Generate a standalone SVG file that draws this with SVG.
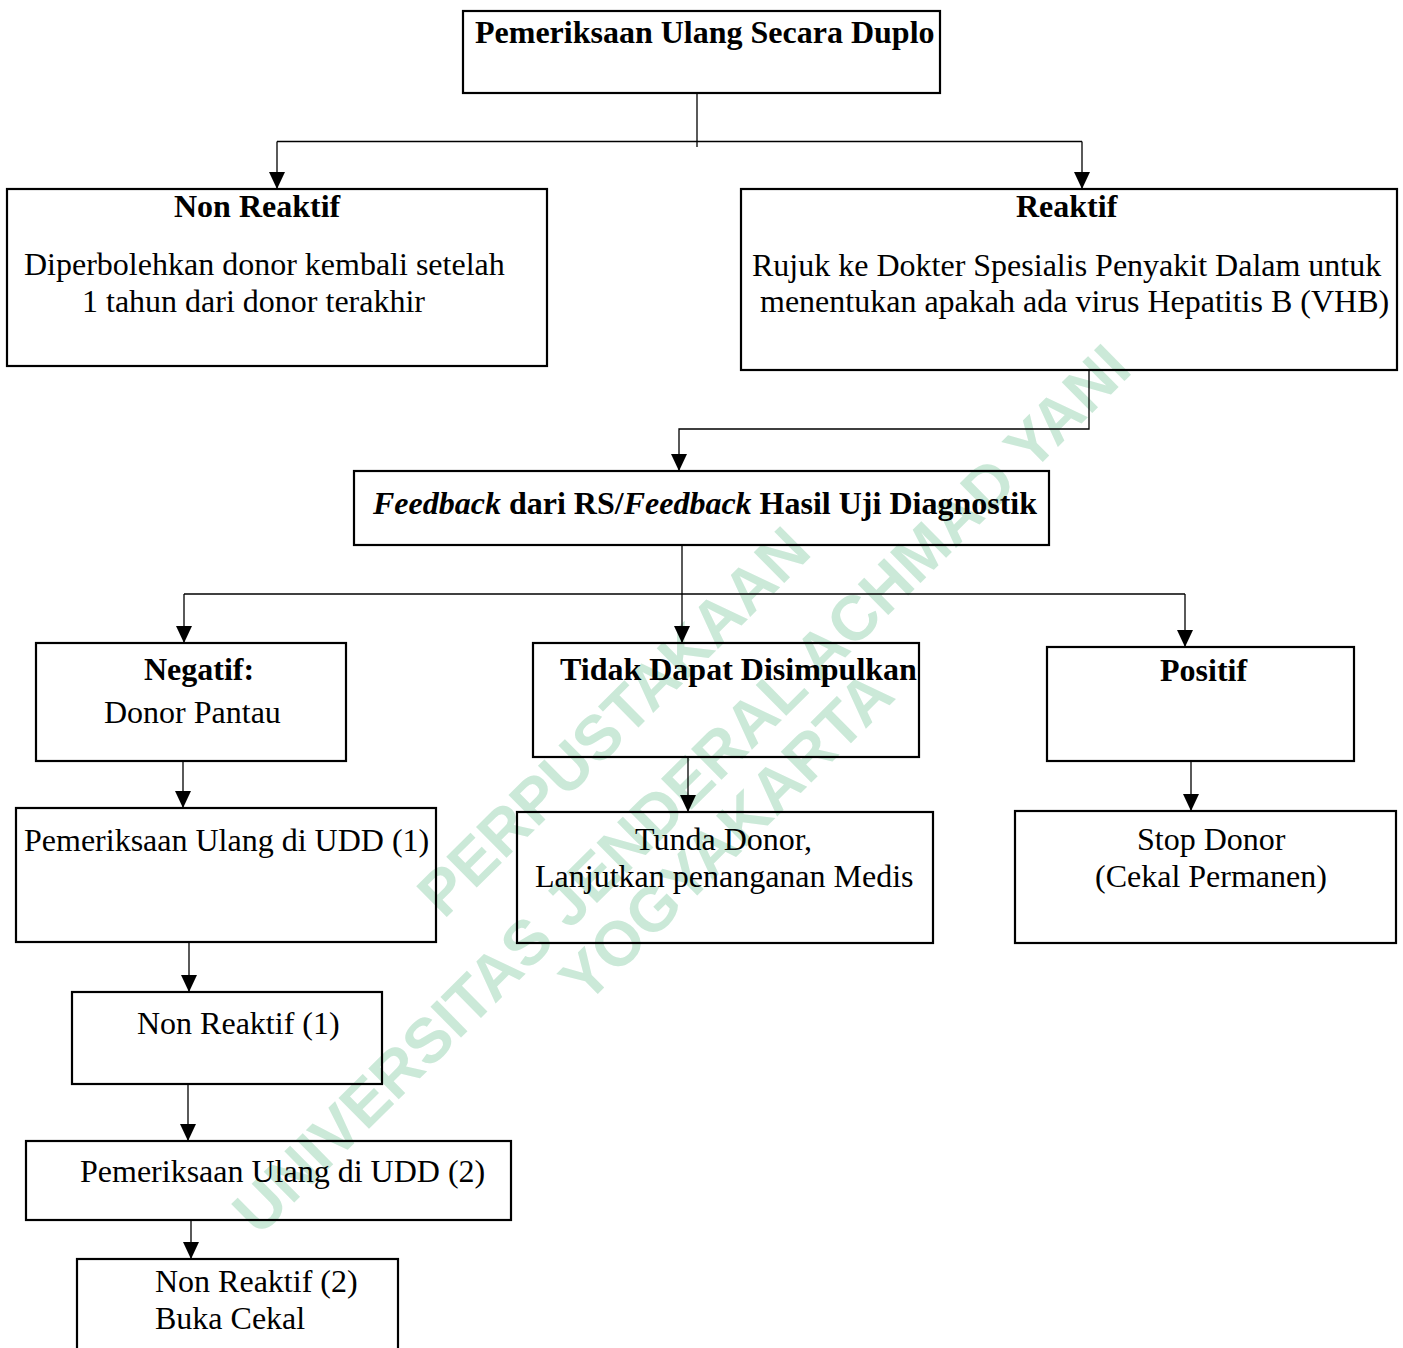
<svg xmlns="http://www.w3.org/2000/svg" width="1403" height="1348" viewBox="0 0 1403 1348">
<style>
.box{fill:none;stroke:#000;stroke-width:2.2}
.t{font-family:"Liberation Serif","Times New Roman",serif;font-size:32px;fill:#000}
.b{font-weight:bold}
.i{font-style:italic}
.c{fill:none;stroke:#000;stroke-width:1.3}
.wm{font-family:"Liberation Sans",Arial,sans-serif;font-weight:bold;font-size:63px;fill:#cbe9d8;text-anchor:middle}
</style>
<defs>
<marker id="ah" markerUnits="userSpaceOnUse" markerWidth="17" markerHeight="16" refX="17" refY="8" orient="auto">
<path d="M0,0 L17,8 L0,16 z" fill="#000"/>
</marker>
</defs>
<rect width="1403" height="1348" fill="#fff"/>
<g id="watermark">
<text class="wm" transform="translate(614,722) rotate(-44.7)" x="0" y="21" font-size="59">PERPUSTAKAAN</text>
<text class="wm" transform="translate(681,789) rotate(-44.7)" x="0" y="22">UNIVERSITAS JENDERAL ACHMAD YANI</text>
<text class="wm" transform="translate(726,836) rotate(-44.7)" x="0" y="22">YOGYAKARTA</text>
</g>
<g id="connectors">
<path class="c" d="M697,93 V147"/>
<path class="c" d="M277,141.5 H1082"/>
<path class="c" d="M277,141.5 V189" marker-end="url(#ah)"/>
<path class="c" d="M1082,141.5 V189" marker-end="url(#ah)"/>
<path class="c" d="M1089,370 V429 H679 V471" marker-end="url(#ah)"/>
<path class="c" d="M682,545 V643" marker-end="url(#ah)"/>
<path class="c" d="M184,594 H1185"/>
<path class="c" d="M184,594 V643" marker-end="url(#ah)"/>
<path class="c" d="M1185,594 V647" marker-end="url(#ah)"/>
<path class="c" d="M183,761 V808" marker-end="url(#ah)"/>
<path class="c" d="M688,757 V812" marker-end="url(#ah)"/>
<path class="c" d="M1191,761 V811" marker-end="url(#ah)"/>
<path class="c" d="M189,942 V992" marker-end="url(#ah)"/>
<path class="c" d="M188,1084 V1141" marker-end="url(#ah)"/>
<path class="c" d="M191,1220 V1259" marker-end="url(#ah)"/>
</g>
<g id="n-duplo">
<rect class="box" x="463" y="11" width="477" height="82"/>
<text class="t b" x="475" y="43">Pemeriksaan Ulang Secara Duplo</text>
</g>
<g id="n-nonreaktif">
<rect class="box" x="7" y="189" width="540" height="177"/>
<text class="t b" x="174" y="217">Non Reaktif</text>
<text class="t" x="24" y="275">Diperbolehkan donor kembali setelah</text>
<text class="t" x="82" y="312">1 tahun dari donor terakhir</text>
</g>
<g id="n-reaktif">
<rect class="box" x="741" y="189" width="656" height="181"/>
<text class="t b" x="1016" y="217">Reaktif</text>
<text class="t" x="752" y="276">Rujuk ke Dokter Spesialis Penyakit Dalam untuk</text>
<text class="t" x="760" y="312">menentukan apakah ada virus Hepatitis B (VHB)</text>
</g>
<g id="n-feedback">
<rect class="box" x="354" y="471" width="695" height="74"/>
<text class="t b" x="373" y="514"><tspan class="i">Feedback</tspan> dari RS/<tspan class="i">Feedback</tspan> Hasil Uji Diagnostik</text>
</g>
<g id="n-negatif">
<rect class="box" x="36" y="643" width="310" height="118"/>
<text class="t b" x="144" y="680">Negatif:</text>
<text class="t" x="104" y="723">Donor Pantau</text>
</g>
<g id="n-tidak">
<rect class="box" x="533" y="643" width="386" height="114"/>
<text class="t b" x="560" y="680">Tidak Dapat Disimpulkan</text>
</g>
<g id="n-positif">
<rect class="box" x="1047" y="647" width="307" height="114"/>
<text class="t b" x="1160" y="681">Positif</text>
</g>
<g id="n-udd1">
<rect class="box" x="16" y="808" width="420" height="134"/>
<text class="t" x="24" y="851">Pemeriksaan Ulang di UDD (1)</text>
</g>
<g id="n-tunda">
<rect class="box" x="517" y="812" width="416" height="131"/>
<text class="t" x="635" y="850">Tunda Donor,</text>
<text class="t" x="535" y="887">Lanjutkan penanganan Medis</text>
</g>
<g id="n-stop">
<rect class="box" x="1015" y="811" width="381" height="132"/>
<text class="t" x="1137" y="850">Stop Donor</text>
<text class="t" x="1095" y="887">(Cekal Permanen)</text>
</g>
<g id="n-nr1">
<rect class="box" x="72" y="992" width="310" height="92"/>
<text class="t" x="137" y="1034">Non Reaktif (1)</text>
</g>
<g id="n-udd2">
<rect class="box" x="26" y="1141" width="485" height="79"/>
<text class="t" x="80" y="1182">Pemeriksaan Ulang di UDD (2)</text>
</g>
<g id="n-nr2">
<rect class="box" x="77" y="1259" width="321" height="110"/>
<text class="t" x="155" y="1292">Non Reaktif (2)</text>
<text class="t" x="155" y="1329">Buka Cekal</text>
</g>
</svg>
